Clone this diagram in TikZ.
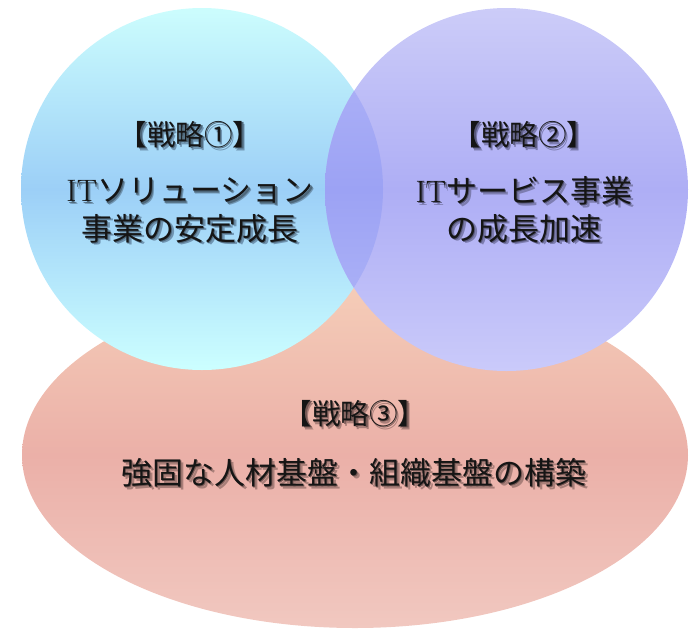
\documentclass[tikz,border=0pt]{standalone}
\usepackage{fontspec}
\newfontfamily\jp{Noto Sans CJK JP}
\usetikzlibrary{shapes.geometric}
\definecolor{cyTop}{HTML}{CCFDFD}
\definecolor{cyMid}{HTML}{9CCFF7}
\definecolor{cyBot}{HTML}{CCFFFF}
\definecolor{puTop}{HTML}{CCCCF8}
\definecolor{puMid}{HTML}{AEAEF5}
\definecolor{puBot}{HTML}{CACAFA}
\definecolor{lnTop}{HTML}{B4B8F8}
\definecolor{lnMid}{HTML}{9CA2F4}
\definecolor{lnBot}{HTML}{B4BAF8}
\definecolor{saTop}{HTML}{F5CDB8}
\definecolor{saMid}{HTML}{EBB0A8}
\definecolor{saBot}{HTML}{F1C8C0}
\definecolor{txt}{HTML}{151515}
\newcommand\shadowed[3]{%
  \makebox[0pt][l]{\hspace{2.6pt}\raisebox{-2.6pt}{\color{#1}#3}}%
  \makebox[0pt][l]{\hspace{1.4pt}\raisebox{-1.4pt}{\color{#2}#3}}%
  #3}
\begin{document}
\begin{tikzpicture}[x=1pt,y=-1pt,
  bigtext/.style={font=\jp\fontsize{31}{36}\selectfont, inner sep=0pt, text=txt},
  headtext/.style={font=\jp\fontsize{28.5}{33}\selectfont, inner sep=0pt, text=txt},
  blob/.style={inner sep=0pt, draw=none}]
\useasboundingbox (0,0) rectangle (694,630);
\node[blob, ellipse, minimum width=666pt, minimum height=346pt,
  top color=saTop, bottom color=saBot, middle color=saMid] (e3) at (355,455) {};
\node[blob, circle, minimum size=362pt,
  top color=cyTop, bottom color=cyBot, middle color=cyMid] (c1) at (202,189) {};
\node[blob, circle, minimum size=363pt,
  top color=puTop, bottom color=puBot, middle color=puMid] (c2) at (506.5,189.5) {};
\begin{scope}
  \path[clip] (c1.center) circle (181);
  \shade[top color=lnTop, bottom color=lnBot, middle color=lnMid] (c2.center) circle (181.5);
\end{scope}
\newcommand\cyS[1]{\shadowed{cyMid!72!black}{cyMid!50!black}{#1}}
\newcommand\puS[1]{\shadowed{puMid!72!black}{puMid!50!black}{#1}}
\newcommand\saS[1]{\shadowed{saMid!72!black}{saMid!50!black}{#1}}
\node[headtext] (h1) at (190,136) {\cyS{【戦略①】}};
\node[bigtext] (a1) at (190,192) {\cyS{{\rmfamily IT}ソリューション}};
\node[bigtext] (b1) at (190,230) {\cyS{事業の安定成長}};
\node[headtext] (h2) at (524,136) {\puS{【戦略②】}};
\node[bigtext] (a2) at (524,192) {\puS{{\rmfamily IT}サービス事業}};
\node[bigtext] (b2) at (524,230) {\puS{の成長加速}};
\node[headtext] (h3) at (355,415) {\saS{【戦略③】}};
\node[bigtext] (a3) at (354,474) {\saS{強固な人材基盤・組織基盤の構築}};
\end{tikzpicture}
\end{document}
